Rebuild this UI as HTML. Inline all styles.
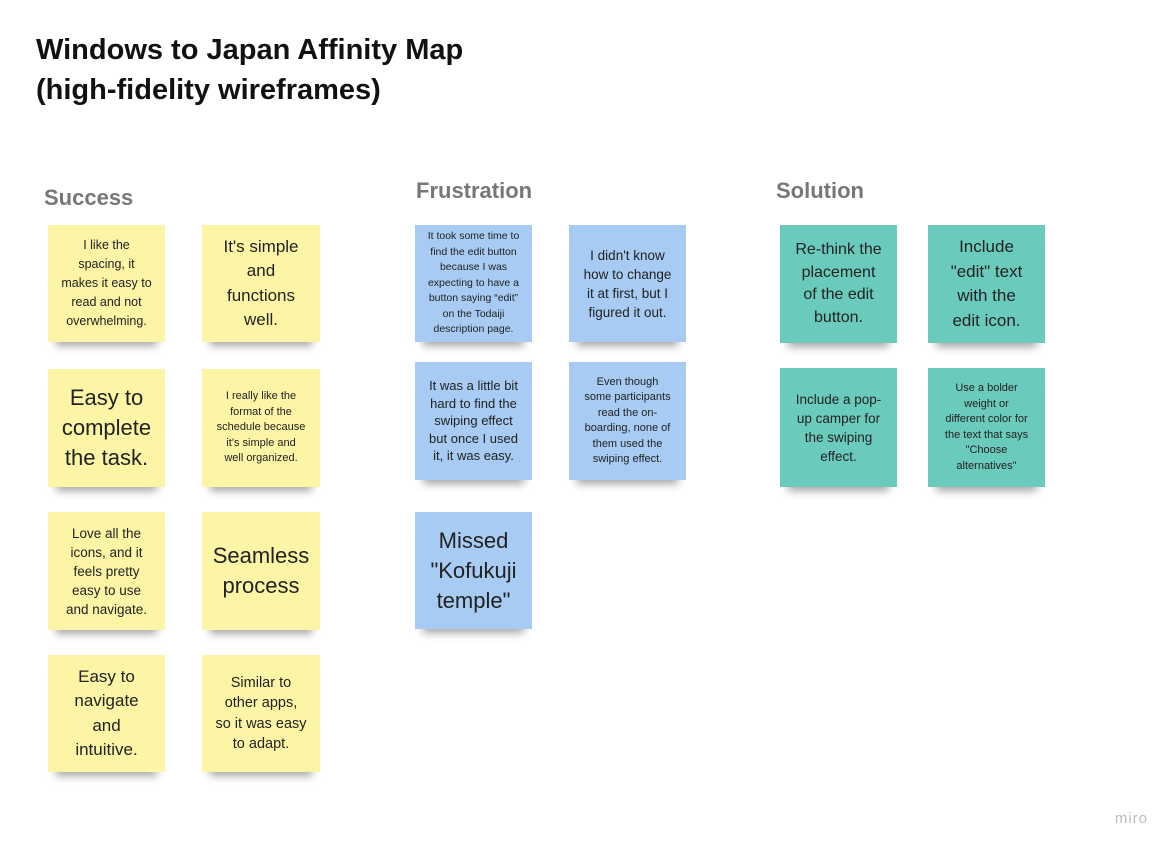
<!DOCTYPE html>
<html><head><meta charset="utf-8"><style>
body{margin:0;width:1174px;height:851px;background:#fff;position:relative;overflow:hidden;font-family:"Liberation Sans",sans-serif;}
.t{position:absolute;left:36px;top:30px;font-size:29px;font-weight:bold;line-height:40px;color:#111;}
.h{position:absolute;font-size:22px;font-weight:bold;color:#777;}
.n{position:absolute;width:117px;height:117px;display:flex;align-items:center;justify-content:center;text-align:center;color:#222;box-shadow:0 12px 8px -8px rgba(0,0,0,.35);box-sizing:border-box;white-space:nowrap;}
.y{background:#fdf5a6}.b{background:#a7cbf2}.g{background:#6acbbd}
.s{font-size:11px;line-height:15.5px}
.m{font-size:13.5px;line-height:19px}
.l{font-size:17px;line-height:24.5px}
.x{font-size:22px;line-height:30px}
.miro{position:absolute;right:26px;bottom:24px;color:#bbb;font-size:15px;letter-spacing:1px}
</style></head><body>
<div class="t">Windows to Japan Affinity Map<br>(high-fidelity wireframes)</div>
<div class="h" style="left:44px;top:185px">Success</div>
<div class="h" style="left:416px;top:178px">Frustration</div>
<div class="h" style="left:776px;top:178px">Solution</div>

<div class="n y m" style="left:48px;top:225px;font-size:12.5px">I like the<br>spacing, it<br>makes it easy to<br>read and not<br>overwhelming.</div>
<div class="n y l" style="left:202px;top:225px;width:118px">It's simple<br>and<br>functions<br>well.</div>
<div class="n y x" style="left:48px;top:369px;height:118px">Easy to<br>complete<br>the task.</div>
<div class="n y s" style="left:202px;top:369px;width:118px;height:118px">I really like the<br>format of the<br>schedule because<br>it’s simple and<br>well organized.</div>
<div class="n y m" style="left:48px;top:512px;height:118px">Love all the<br>icons, and it<br>feels pretty<br>easy to use<br>and navigate.</div>
<div class="n y x" style="left:202px;top:512px;width:118px;height:118px">Seamless<br>process</div>
<div class="n y l" style="left:48px;top:655px">Easy to<br>navigate<br>and<br>intuitive.</div>
<div class="n y m" style="left:202px;top:655px;width:118px;font-size:14.5px;line-height:20.5px">Similar to<br>other apps,<br>so it was easy<br>to adapt.</div>

<div class="n b s" style="left:415px;top:225px;font-size:10.5px">It took some time to<br>find the edit button<br>because I was<br>expecting to have a<br>button saying “edit”<br>on the Todaiji<br>description page.</div>
<div class="n b m" style="left:569px;top:225px">I didn't know<br>how to change<br>it at first, but I<br>figured it out.</div>
<div class="n b m" style="left:415px;top:362px;height:118px;font-size:13px;line-height:17.5px">It was a little bit<br>hard to find the<br>swiping effect<br>but once I used<br>it, it was easy.</div>
<div class="n b s" style="left:569px;top:362px;height:118px">Even though<br>some participants<br>read the on-<br>boarding, none of<br>them used the<br>swiping effect.</div>
<div class="n b x" style="left:415px;top:512px">Missed<br>"Kofukuji<br>temple"</div>

<div class="n g l" style="left:780px;top:225px;height:118px;font-size:16px;line-height:22.5px">Re-think the<br>placement<br>of the edit<br>button.</div>
<div class="n g l" style="left:928px;top:225px;height:118px">Include<br>"edit" text<br>with the<br>edit icon.</div>
<div class="n g m" style="left:780px;top:368px;height:119px">Include a pop-<br>up camper for<br>the swiping<br>effect.</div>
<div class="n g s" style="left:928px;top:368px;height:119px">Use a bolder<br>weight or<br>different color for<br>the text that says<br>"Choose<br>alternatives"</div>
<div class="miro">miro</div>
</body></html>
